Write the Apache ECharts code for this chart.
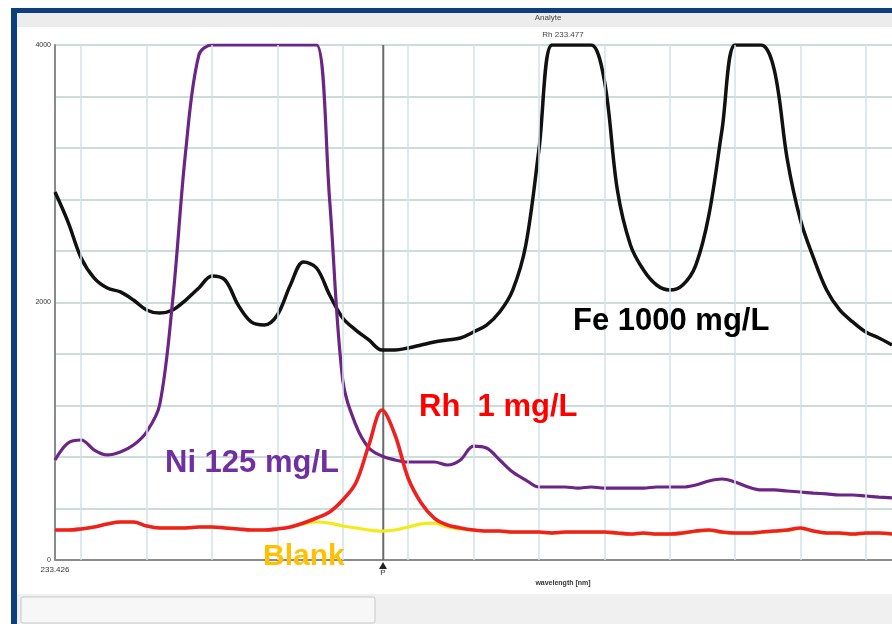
<!DOCTYPE html>
<html>
<head>
<meta charset="utf-8">
<script src="https://cdn.jsdelivr.net/npm/echarts@6/dist/echarts.min.js"></script>
<style>
html,body{margin:0;padding:0;background:#fff;}
#chart{width:892px;height:624px;}
</style>
</head>
<body>
<div id="chart"></div>
<script>
// wavelength samples (nm)
const wavelengths = [233.426,233.428,233.430,233.432,233.434,233.436,233.438,233.440,233.442,233.444,
233.446,233.448,233.450,233.452,233.454,233.456,233.458,233.460,233.462,233.464,
233.466,233.468,233.470,233.472,233.474,233.476,233.478,233.480,233.482,233.484,
233.486,233.488,233.490,233.492,233.494,233.496,233.498,233.500,233.502,233.504,
233.506,233.508,233.510,233.512,233.514,233.516,233.518,233.520,233.522,233.524,
233.526,233.528,233.530,233.532,233.534,233.536,233.538,233.540,233.542,233.544,
233.546,233.548,233.550,233.552,233.554];

const fe1000 = [2858,2625,2346,2190,2113,2082,2019,1942,1918,1942,
2019,2113,2206,2175,1981,1849,1825,1903,2136,2315,
2268,2058,1880,1786,1709,1631,1631,1647,1670,1693,
1709,1724,1771,1825,1926,2097,2447,3184,4000,4000,
4000,4000,3728,2874,2447,2252,2136,2097,2136,2291,
2680,3340,4000,4000,4000,3806,3107,2641,2346,2097,
1942,1849,1771,1724,1670];

const ni125 = [777,909,932,854,816,839,893,994,1204,2019,
3184,3922,4000,4000,4000,4000,4000,4000,4000,4000,
4000,2796,1398,1049,870,808,777,761,761,761,
738,777,885,870,777,683,621,567,567,567,
559,567,559,559,559,559,567,567,567,583,
614,629,606,567,544,544,536,528,520,513,
505,505,497,489,482];

const rh1 = [233,233,241,256,280,295,295,264,249,249,
249,256,256,249,241,233,233,241,256,287,
326,373,466,598,893,1165,971,637,443,326,
272,249,233,225,225,217,217,217,210,217,
217,217,217,210,202,210,202,202,210,225,
233,217,210,210,217,225,233,249,225,210,
210,202,210,210,202];

const blank = [233,233,241,256,280,295,295,264,249,249,
249,256,256,249,241,233,233,241,256,280,
295,287,264,249,233,225,233,256,280,287,
256,241,230,222,222,214,214,214,207,214,
214,214,214,207,199,207,199,199,207,222,
230,214,207,207,214,222,230,246,222,207,
207,199,207,207,199];

const xGridValues = [233.43,233.44,233.45,233.46,233.47,233.48,233.49,233.50,233.51,233.52,233.53,233.54,233.55];
const cursorWavelength = 233.4762;
const yLabelValues = [0, 2000, 4000];

const pair = arr => wavelengths.map((w, i) => [w, arr[i]]);

const chart = echarts.init(document.getElementById('chart'), null, {renderer: 'canvas'});

const lineSeries = (name, data, color, width, z) => ({
  name, type: 'line', data: pair(data), showSymbol: false, smooth: 0.35,
  lineStyle: {color, width}, itemStyle: {color}, z, clip: true, silent: true
});

chart.setOption({
  animation: false,
  backgroundColor: '#ffffff',
  grid: {left: 55, top: 45, right: 0, bottom: 64, show: true, backgroundColor: '#ffffff', borderWidth: 0},
  xAxis: {
    type: 'value', min: 233.426, max: 233.554,
    splitLine: {show: false},
    axisLine: {show: true, lineStyle: {color: '#8a8a8a', width: 2}},
    axisTick: {show: false},
    axisLabel: {
      showMinLabel: true, showMaxLabel: false, fontSize: 8, color: '#333', margin: 6,
      fontFamily: 'Liberation Sans',
      formatter: v => Math.abs(v - 233.426) < 1e-7 ? '233.426' : ''
    }
  },
  yAxis: {
    type: 'value', min: 0, max: 4000, interval: 400,
    splitLine: {show: true, lineStyle: {color: '#b9d2cc', width: 1.5}},
    axisLine: {show: true, lineStyle: {color: '#8a8a8a', width: 2}},
    axisTick: {show: false},
    axisLabel: {
      fontSize: 7, color: '#333', margin: 4, fontFamily: 'Liberation Sans',
      formatter: v => yLabelValues.includes(v) ? String(v) : ''
    }
  },
  series: [
    {
      name: 'grid', type: 'line', data: [], silent: true, z: 1,
      markLine: {
        silent: true, symbol: 'none', label: {show: false}, animation: false, precision: 4,
        lineStyle: {color: '#d3e2ea', width: 1.5, type: 'solid'},
        data: xGridValues.map(v => ({xAxis: v}))
      }
    },
    {
      name: 'cursor', type: 'line', silent: true, z: 2, showSymbol: false,
      data: [[cursorWavelength, 0], [cursorWavelength, 4000]],
      lineStyle: {color: '#6a6a6a', width: 2}
    },
    lineSeries('Fe 1000 mg/L', fe1000, '#111111', 3.5, 3),
    lineSeries('Ni 125 mg/L', ni125, '#6b2585', 3.2, 4),
    lineSeries('Blank', blank, '#f2ea1c', 3.2, 5),
    lineSeries('Rh 1 mg/L', rh1, '#ee2020', 3.6, 6)
  ],
  graphic: [
    {type: 'rect', shape: {x: 0, y: 0, width: 892, height: 9}, style: {fill: '#ffffff'}, z: 100},
    {type: 'rect', shape: {x: 11, y: 8, width: 881, height: 5}, style: {fill: '#0d3f7c'}, z: 100},
    {type: 'rect', shape: {x: 11, y: 8, width: 6, height: 616}, style: {fill: '#0d3f7c'}, z: 100},
    {type: 'rect', shape: {x: 17, y: 13, width: 875, height: 14}, style: {fill: '#ececec'}, z: 99},
    {type: 'rect', shape: {x: 17, y: 594, width: 875, height: 30}, style: {fill: '#f0f0f0'}, z: 99},
    {type: 'rect', shape: {x: 21, y: 597, width: 354, height: 26, r: 2}, style: {fill: '#f7f7f7', stroke: '#c8c8c8', lineWidth: 1}, z: 100},
    {type: 'text', x: 548, y: 18, style: {text: 'Analyte', fontSize: 8, fill: '#444', fontFamily: 'Liberation Sans', align: 'center', verticalAlign: 'middle'}, z: 101},
    {type: 'text', x: 563, y: 35, style: {text: 'Rh 233.477', fontSize: 8, fill: '#444', fontFamily: 'Liberation Sans', align: 'center', verticalAlign: 'middle'}, z: 101},
    {type: 'text', x: 563, y: 583, style: {text: 'wavelength [nm]', fontSize: 7, fontWeight: 'bold', fill: '#333', fontFamily: 'Liberation Sans', align: 'center', verticalAlign: 'middle'}, z: 101},
    {type: 'polygon', shape: {points: [[383, 562], [379, 569], [387, 569]]}, style: {fill: '#222'}, z: 101},
    {type: 'text', x: 383, y: 573, style: {text: 'P', fontSize: 8, fill: '#333', fontFamily: 'Liberation Sans', align: 'center', verticalAlign: 'middle'}, z: 101},
    {type: 'text', x: 573, y: 321, style: {text: 'Fe 1000 mg/L', fontSize: 31, fontWeight: 'bold', fill: '#000', fontFamily: 'Liberation Sans', verticalAlign: 'middle'}, z: 110},
    {type: 'text', x: 419, y: 407, style: {text: 'Rh  1 mg/L', fontSize: 31, fontWeight: 'bold', fill: '#ff0000', fontFamily: 'Liberation Sans', verticalAlign: 'middle'}, z: 110},
    {type: 'text', x: 165, y: 463, style: {text: 'Ni 125 mg/L', fontSize: 31, fontWeight: 'bold', fill: '#7030a0', fontFamily: 'Liberation Sans', verticalAlign: 'middle'}, z: 110},
    {type: 'text', x: 263, y: 557, style: {text: 'Blank', fontSize: 30, fontWeight: 'bold', fill: '#ffc000', fontFamily: 'Liberation Sans', verticalAlign: 'middle'}, z: 110}
  ]
});
</script>
</body>
</html>
